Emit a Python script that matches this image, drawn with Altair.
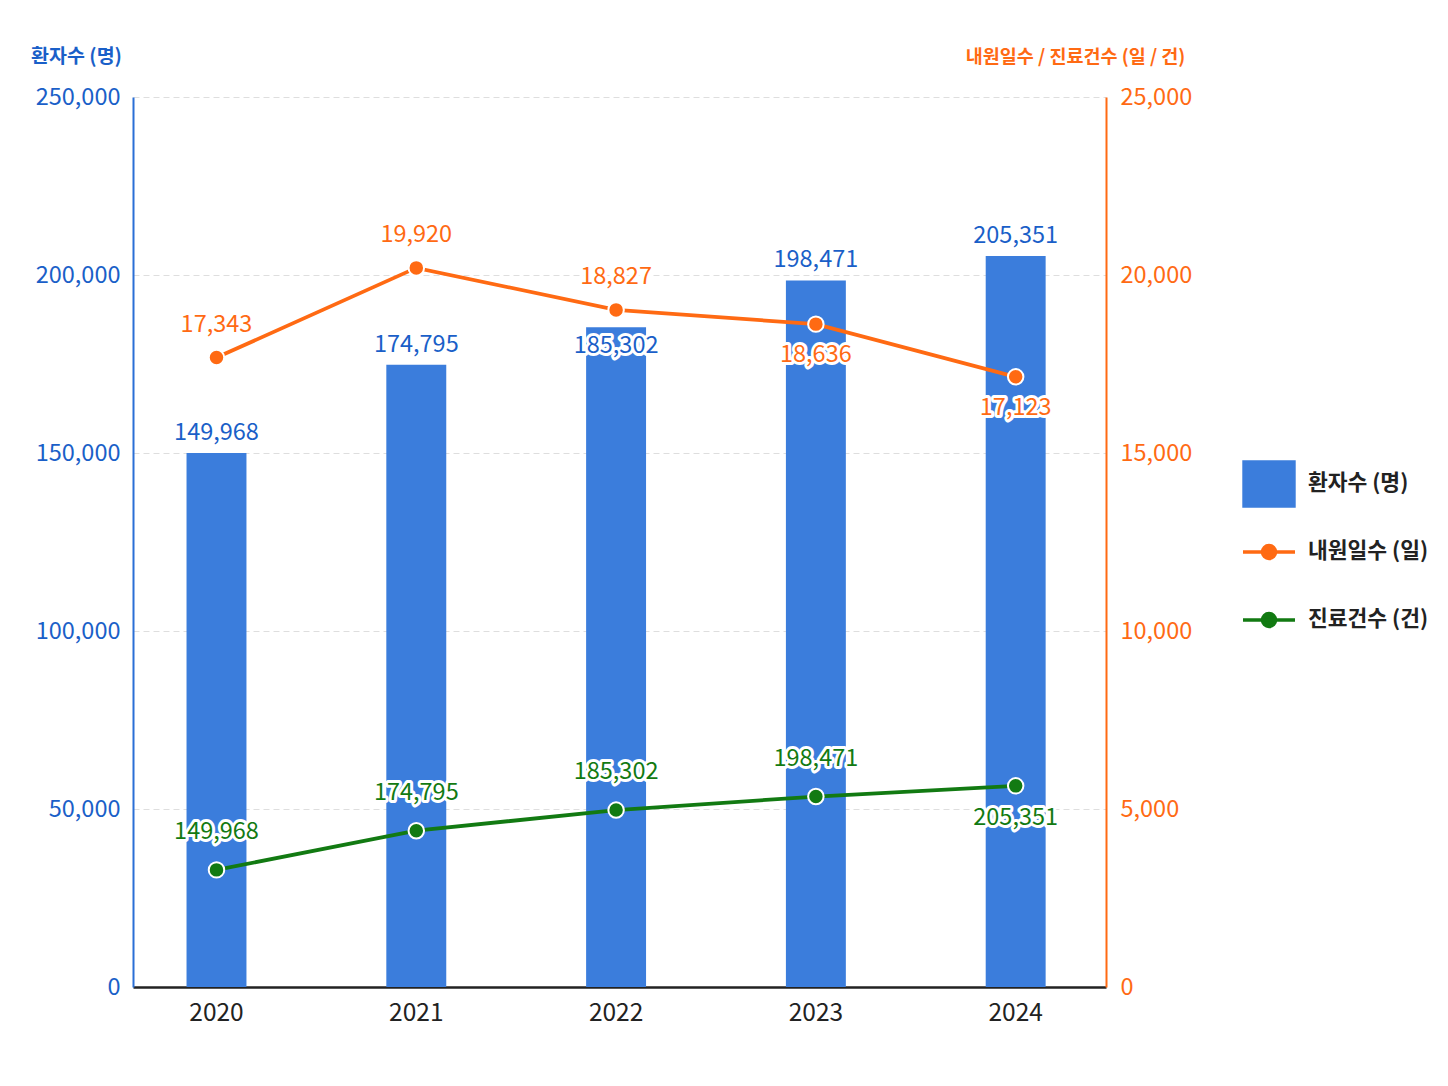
import altair as alt
import pandas as pd

# values (line values from the drawn points,
# label texts as printed next to them)
years = ["2020", "2021", "2022", "2023", "2024"]
patients = [149968, 174795, 185302, 198471, 205351]      # 환자수 (명), left axis
visit_days = [17680, 20200, 19020, 18620, 17140]         # 내원일수 (일), right axis
visit_labels = ["17,343", "19,920", "18,827", "18,636", "17,123"]
claims = [3290, 4390, 4970, 5350, 5650]                  # 진료건수 (건), right axis
claim_labels = ["149,968", "174,795", "185,302", "198,471", "205,351"]

series_names = ["환자수 (명)", "내원일수 (일)", "진료건수 (건)"]
left_ticks = [0, 50000, 100000, 150000, 200000, 250000]
right_ticks = [0, 5000, 10000, 15000, 20000, 25000]

BLUE_BAR = "#3b7ddc"
BLUE_TEXT = "#1a5fc8"
ORANGE = "#ff6a13"
GREEN = "#127a12"
FONT = "Noto Sans CJK KR"
NUM_SIZE = 23.5

bars_df = pd.DataFrame({"year": years, "value": patients})
bars_df["label"] = [f"{v:,}" for v in patients]

lines_df = pd.concat([
    pd.DataFrame({"year": years, "series": series_names[1], "value": visit_days,
                  "label": visit_labels}),
    pd.DataFrame({"year": years, "series": series_names[2], "value": claims,
                  "label": claim_labels}),
], ignore_index=True)

x_enc = alt.X(
    "year:N",
    sort=years,
    scale=alt.Scale(paddingInner=0.7, paddingOuter=0.285, align=0.47),
    axis=alt.Axis(
        title=None, labelAngle=0, labelFont=FONT, labelFontSize=24.5,
        labelColor="#222222", domainColor="#222222", domainWidth=2.5,
        ticks=False, tickSize=0, labelPadding=14, grid=False,
    ),
)

y_left = alt.Y(
    "value:Q",
    scale=alt.Scale(domain=[0, 250000], nice=False),
    axis=alt.Axis(
        values=left_ticks, format=",d", title="환자수 (명)",
        titleAngle=0, titleX=-57, titleY=-41, titleAlign="center",
        titleBaseline="middle", titleFont=FONT, titleFontSize=19.5,
        titleFontWeight=600, titleColor=BLUE_TEXT,
        labelFont=FONT, labelFontSize=NUM_SIZE, labelColor=BLUE_TEXT,
        labelPadding=13, ticks=False, tickSize=0,
        domainColor="#2a6fd6", domainWidth=2,
        grid=True, gridColor="#dedede", gridDash=[6, 4], gridWidth=1,
    ),
)

y_right = alt.Y(
    "value:Q",
    scale=alt.Scale(domain=[0, 25000], nice=False),
    axis=alt.Axis(
        orient="right", values=right_ticks, format=",d",
        title="내원일수 / 진료건수 (일 / 건)",
        titleAngle=0, titleX=-31, titleY=-41, titleAlign="center",
        titleBaseline="middle", titleFont=FONT, titleFontSize=18.5,
        titleFontWeight=600, titleColor=ORANGE,
        labelFont=FONT, labelFontSize=NUM_SIZE, labelColor=ORANGE,
        labelPadding=14, ticks=False, tickSize=0,
        domainColor=ORANGE, domainWidth=2, grid=False,
    ),
)


def value_labels(data, y, color, dy, keep):
    """White-haloed value labels for the rows that pass the filter."""
    base = alt.Chart(data).transform_filter(keep).encode(x=x_enc, y=y, text="label:N")
    halo = base.mark_text(dy=dy, font=FONT, fontSize=NUM_SIZE, fill="white",
                          stroke="white", strokeWidth=6, strokeJoin="round")
    front = base.mark_text(dy=dy, font=FONT, fontSize=NUM_SIZE, color=color)
    return halo + front


def series_line(name, color):
    src = alt.Chart(lines_df).transform_filter(f"datum.series == '{name}'")
    line = src.mark_line(color=color, strokeWidth=3.8).encode(x=x_enc, y=y_right)
    dots = src.mark_circle(color=color, size=240, opacity=1,
                           stroke="white", strokeWidth=2).encode(x=x_enc, y=y_right)
    return line, dots


# left side: bars and their labels
bars = alt.Chart(bars_df).mark_bar(color=BLUE_BAR).encode(x=x_enc, y=y_left)
left = alt.layer(
    bars,
    value_labels(bars_df, y_left, BLUE_TEXT, -20, "datum.year != '2022'"),
    value_labels(bars_df, y_left, BLUE_TEXT, 19, "datum.year == '2022'"),
)

# right side: the two lines
visit_line, visit_dots = series_line(series_names[1], ORANGE)
claim_line, claim_dots = series_line(series_names[2], GREEN)
is_visit = f"datum.series == '{series_names[1]}'"
is_claim = f"datum.series == '{series_names[2]}'"
early = "(datum.year == '2020' || datum.year == '2021' || datum.year == '2022')"

# legend: carried by points that sit below the clipped plot
rect_path = "M-0.96,-0.85H0.96V0.85H-0.96Z"
dot_path = ("M0,-0.85M0,0.85M-1,0H1"
            "M0.25,0A0.25,0.25 0 1 1 -0.25,0A0.25,0.25 0 1 1 0.25,0Z")
legend = alt.Legend(
    title=None, orient="none", legendX=1108, legendY=359, padding=0,
    symbolSize=2704, symbolStrokeWidth=3.5, labelFont=FONT,
    labelFontSize=21.5, labelFontWeight=600, labelColor="#222222",
    labelOffset=11, rowPadding=8,
)
legend_df = pd.DataFrame({"series": series_names, "year": years[0], "value": -10000})
series_scale = alt.Scale(domain=series_names, range=[BLUE_BAR, ORANGE, GREEN])
carrier = alt.Chart(legend_df).mark_point(
    filled=True, clip=True, opacity=1, strokeWidth=3.5
).encode(
    x=x_enc,
    y=y_right,
    fill=alt.Fill("series:N", scale=series_scale, legend=legend),
    stroke=alt.Stroke("series:N", scale=series_scale, legend=legend),
    shape=alt.Shape("series:N", scale=alt.Scale(domain=series_names,
                                                range=[rect_path, dot_path, dot_path]),
                    legend=legend),
)

right = alt.layer(
    visit_line, claim_line, visit_dots, claim_dots,
    value_labels(lines_df, y_right, ORANGE, -33, f"{is_visit} && {early}"),
    value_labels(lines_df, y_right, ORANGE, 31, f"{is_visit} && !{early}"),
    value_labels(lines_df, y_right, GREEN, -38, f"{is_claim} && datum.year != '2024'"),
    value_labels(lines_df, y_right, GREEN, 32, f"{is_claim} && datum.year == '2024'"),
    carrier,
)

chart = alt.layer(left, right).resolve_scale(y="independent").properties(
    width=973,
    height=890,
    autosize=alt.AutoSizeParams(type="none"),
    padding={"left": 125, "top": 89, "right": 330, "bottom": 90},
    background="white",
).configure_view(strokeWidth=0)

chart.save("out.html", embed_options={"renderer": "svg", "actions": False})
